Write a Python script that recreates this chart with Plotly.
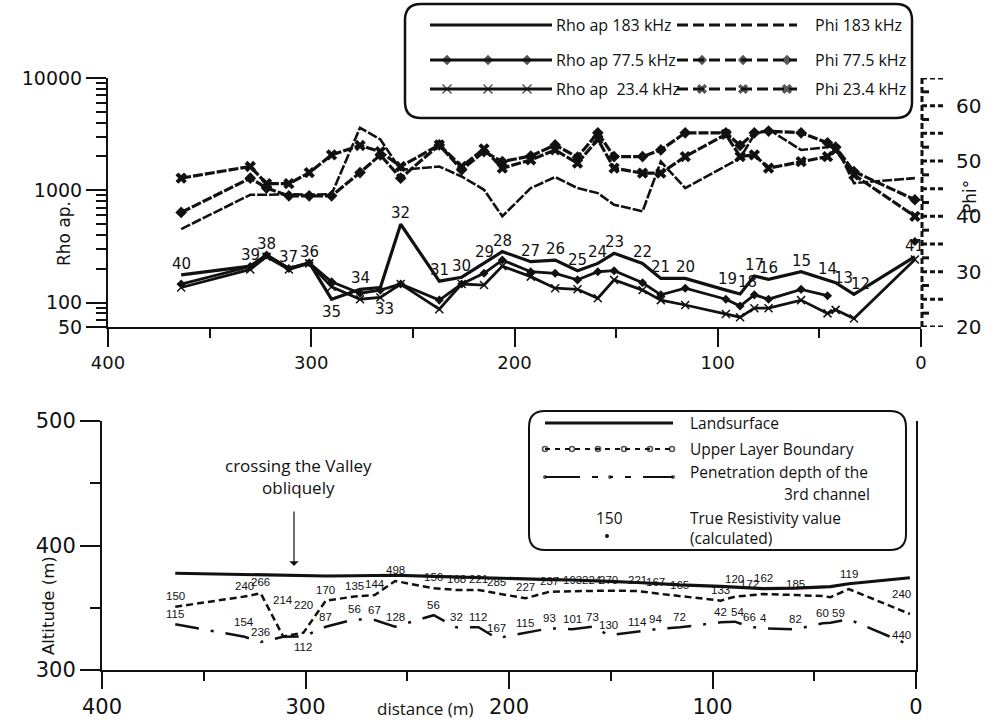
import math
import plotly.graph_objects as go

W, H = 995, 722
BLACK = "#111111"

# ---------------- data ----------------
stations = [40, 39, 38, 37, 36, 35, 34, 33, 32, 31, 30, 29, 28, 27, 26, 25, 24, 23, 22, 21,
            20, 19, 18, 17, 16, 15, 14, 13, 12, 41]
distance_m = [364, 330, 322, 311, 301, 290, 276, 266, 256, 237, 226, 215, 206, 192, 180, 169,
              159, 151, 137, 128, 116, 96, 89, 82, 75, 59, 46, 42, 33, 3]

rho_183 = [176, 211, 265, 201, 226, 107, 131, 136, 498, 155, 168, 223, 284, 231, 239, 192,
           223, 274, 223, 164, 164, 129, 119, 172, 161, 188, 159, 150, 118, 256]
rho_775 = [146, 209, 265, 201, 226, 153, 121, 129, 146, 105, 146, 182, 239, 188, 182, 159,
           188, 192, 150, 117, 134, 107, 93, 117, 107, 131, 115, None, None, 350]
rho_234 = [136, 197, 256, 197, 223, 138, 107, 111, 146, 87, 146, 143, 211, 170, 134, 131,
           109, 159, 129, 105, 95, 79, 74, 89, 89, 105, 80, 86, 72, 242]

phi_183 = [37.7, 43.9, 43.9, 44.0, 43.9, 44.0, 56.0, 53.9, 48.4, 49.0, 47.2, 44.8, 40.0, 45.1,
           47.1, 45.1, 44.2, 42.1, 40.9, 49.9, 45.1, 49.0, 50.5, 54.8, 55.7, 52.0, 52.5, 52.8,
           46.0, 46.9]
phi_775 = [40.7, 46.9, 45.1, 43.7, 43.7, 43.7, 47.9, 51.1, 46.9, 52.9, 48.4, 51.7, 49.9, 50.9,
           52.9, 50.7, 55.1, 50.8, 50.8, 52.0, 55.1, 55.1, 52.8, 55.1, 55.4, 55.1, 53.3, 52.5,
           48.1, 43.0]
phi_234 = [46.9, 49.0, 45.9, 45.9, 47.9, 51.1, 52.8, 51.7, 49.0, 52.9, 49.0, 52.2, 48.7, 50.2,
           52.0, 49.6, 53.9, 48.7, 47.8, 47.8, 50.8, 54.8, 50.8, 51.1, 48.7, 49.9, 50.8, 52.0,
           47.5, 40.0]

land_alt = [377.7, 376.8, 376.3, 375.9, 375.6, 375.5, 375.7, 375.9, 376.1, 375.2, 374.6, 374.0,
            373.6, 373.0, 372.6, 372.3, 371.9, 371.2, 370.3, 369.3, 368.3, 367.2, 366.6, 365.8,
            365.3, 365.8, 366.4, 367.0, 369.3, 374.1]
upper_alt = [350.8, 359.0, 361.6, 327.0, 330.0, 355.7, 359.0, 360.2, 371.5, 365.6, 364.3, 364.3,
             361.6, 357.6, 362.9, 363.5, 363.5, 363.7, 363.5, 361.6, 359.4, 355.7, 358.9, 360.2,
             361.0, 360.2, 359.4, 358.5, 365.0, 345.0]
pen_alt = [336.7, 326.7, 322.5, 326.7, 327.0, 334.8, 340.7, 340.2, 334.8, 344.0, 334.3, 334.3,
           325.5, 330.0, 333.5, 332.7, 334.8, 328.0, 330.8, 332.7, 334.3, 338.3, 338.8, 334.8,
           333.5, 332.7, 337.5, 338.0, 340.7, 320.0]

upper_res = [150, 240, 266, 214, 220, 170, 135, 144, 498, 156, 168, 221, 285, 227, 237, 193,
             224, 270, 221, 167, 165, 133, 120, 172, 162, 185, None, None, 119, 240]
lower_res = [115, 154, 236, None, 112, 87, 56, 67, 128, 56, 32, 112, 167, 115, 93, 101, 73,
             130, 114, 94, 72, 42, 54, 66, 4, 82, 60, 59, None, 440]

x_ticks = [400, 300, 200, 100, 0]
x_minor = [350, 250, 150, 50]
rho_ticks = [60.5, 100, 1000, 10000]
rho_ticktext = ["50", "100", "1000", "10000"]
rho_minor = [70, 80, 90] + [k * 100 for k in range(2, 10)] + [k * 1000 for k in range(2, 10)]
phi_ticks = [20, 30, 40, 50, 60]
alt_ticks = [300, 400, 500]
alt_minor = [350, 450]


def px_x(a, b):
    return [a / W, b / W]


def px_y(top, bottom):
    return [1 - bottom / H, 1 - top / H]


fig = go.Figure()

# ---------------- top chart ----------------
fig.add_trace(go.Scatter(x=distance_m, y=rho_183, mode="lines", xaxis="x", yaxis="y",
                         line=dict(color=BLACK, width=3.2), showlegend=False))
fig.add_trace(go.Scatter(x=distance_m, y=rho_775, mode="lines+markers", xaxis="x", yaxis="y",
                         line=dict(color=BLACK, width=2.8),
                         marker=dict(symbol="diamond", size=7, color=BLACK), showlegend=False))
fig.add_trace(go.Scatter(x=distance_m, y=rho_234, mode="lines+markers", xaxis="x", yaxis="y",
                         line=dict(color=BLACK, width=2.8),
                         marker=dict(symbol="x-thin", size=8, color=BLACK,
                                     line=dict(width=1.5, color=BLACK)), showlegend=False))
fig.add_trace(go.Scatter(x=distance_m, y=phi_183, mode="lines", xaxis="x", yaxis="y2",
                         line=dict(color=BLACK, width=2.6, dash="10px,2px"), showlegend=False))
fig.add_trace(go.Scatter(x=distance_m, y=phi_775, mode="lines+markers", xaxis="x", yaxis="y2",
                         line=dict(color=BLACK, width=3.2, dash="10px,2px"),
                         marker=dict(symbol="diamond", size=9, color=BLACK), showlegend=False))
fig.add_trace(go.Scatter(x=distance_m, y=phi_234, mode="lines+markers", xaxis="x", yaxis="y2",
                         line=dict(color=BLACK, width=3.2, dash="10px,2px"),
                         marker=dict(symbol="x", size=10, color=BLACK), showlegend=False))

# ---------------- bottom chart ----------------
fig.add_trace(go.Scatter(x=distance_m, y=land_alt, mode="lines", xaxis="x2", yaxis="y3",
                         line=dict(color=BLACK, width=3.2), showlegend=False))
fig.add_trace(go.Scatter(x=distance_m, y=upper_alt, mode="lines", xaxis="x2", yaxis="y3",
                         line=dict(color=BLACK, width=2.5, dash="7px,4px"), showlegend=False))
fig.add_trace(go.Scatter(x=distance_m, y=pen_alt, mode="lines", xaxis="x2", yaxis="y3",
                         line=dict(color=BLACK, width=2.5, dash="24px,12px,3px,12px"),
                         showlegend=False))

# ---------------- legend samples (pixel overlay) ----------------
def sample(x0, x1, y, dash, width, mpos=None, symbol=None, msize=8, mline=0):
    xs = [x0] + (mpos or []) + [x1]
    sizes = [0] + [msize] * len(mpos or []) + [0]
    fig.add_trace(go.Scatter(
        x=xs, y=[y] * len(xs), xaxis="x3", yaxis="y4", showlegend=False,
        mode="lines+markers" if mpos else "lines",
        line=dict(color=BLACK, width=width, dash=dash),
        marker=dict(symbol=symbol or "circle", size=sizes, color=BLACK,
                    line=dict(width=mline, color=BLACK)),
        hoverinfo="skip"))


# top legend
sample(430, 552, 25, "solid", 3)
sample(677, 797, 25, "11px,5px", 3)
sample(430, 552, 60, "solid", 3, [447, 488, 527], "diamond", 8)
sample(677, 797, 60, "11px,5px", 3, [702, 743, 787], "diamond", 8)
sample(430, 552, 89, "solid", 3, [447, 488, 527], "x-thin", 9, 1.5)
sample(677, 797, 89, "11px,5px", 3, [702, 743, 787], "x", 9)

# bottom legend
sample(545, 673, 423, "solid", 3)
sample(545, 673, 449, "5px,5px", 2, [545, 572, 598, 624, 650, 672], "circle-open", 5, 1.6)
sample(545, 673, 477, "35px,12px,6px,12px,3px,12px,6px,12px,30px", 2.2, [545, 610, 673],
       "circle", 4)
fig.add_trace(go.Scatter(x=[607], y=[536], mode="markers", xaxis="x3", yaxis="y4",
                         marker=dict(size=4, color=BLACK), showlegend=False))


def rrect(x0, y0, x1, y1, r):
    return (f"M{x0 + r},{y0} L{x1 - r},{y0} Q{x1},{y0} {x1},{y0 + r} L{x1},{y1 - r} "
            f"Q{x1},{y1} {x1 - r},{y1} L{x0 + r},{y1} Q{x0},{y1} {x0},{y1 - r} "
            f"L{x0},{y0 + r} Q{x0},{y0} {x0 + r},{y0} Z")


shapes = [
    dict(type="path", xref="x3", yref="y4", path=rrect(405, 4, 912, 118, 16),
         line=dict(color=BLACK, width=2.5)),
    dict(type="path", xref="x3", yref="y4", path=rrect(529, 411, 906, 550, 16),
         line=dict(color=BLACK, width=2)),
    dict(type="line", xref="x3", yref="y2", x0=922, x1=922, y0=20, y1=65,
         line=dict(color=BLACK, width=3, dash="6px,3px")),
]
for k in range(10):
    v = 20 + 5 * k
    shapes.append(dict(type="line", xref="x3", yref="y2", x0=922, x1=944, y0=v, y1=v,
                       line=dict(color=BLACK, width=3, dash="5px,3px")))
for k in range(9):
    v = 22.5 + 5 * k
    shapes.append(dict(type="line", xref="x3", yref="y2", x0=922, x1=929, y0=v, y1=v,
                       line=dict(color=BLACK, width=3)))

# ---------------- annotations ----------------
ann = []
TF = "Open Sans"


def txt(x, y, s, size, xa="left", family=TF, angle=0):
    ann.append(dict(x=x, y=y, xref="x3", yref="y4", text=s, showarrow=False, xanchor=xa,
                    yanchor="middle", textangle=angle,
                    font=dict(family=family, size=size, color=BLACK)))


txt(554, 25, "Rho ap 183 kHz", 16)
txt(554, 60, "Rho ap 77.5 kHz", 16)
txt(554, 89, "Rho ap  23.4 kHz", 16)
txt(813, 25, "Phi 183 kHz", 16)
txt(813, 60, "Phi 77.5 kHz", 16)
txt(813, 89, "Phi 23.4 kHz", 16)

txt(688, 423, "Landsurface", 15.5)
txt(688, 449, "Upper Layer Boundary", 15.5)
txt(688, 472, "Penetration depth of the", 15.5)
txt(872, 494, "3rd channel", 15.5, xa="right")
txt(609, 518, "150", 15.5, xa="center")
txt(688, 518, "True Resistivity value", 15.5)
txt(688, 538, "(calculated)", 15.5)

txt(298, 476, "crossing the Valley<br>obliquely", 17, xa="center")
txt(425, 708, "distance (m)", 17)
ann[-1]["xanchor"] = "center"

txt(64, 234, "Rho ap.", 17, xa="center", family="DejaVu Sans", angle=-90)
txt(970, 197, "Phi°", 17, xa="center", family="DejaVu Sans", angle=-90)
txt(48, 606, "Altitude (m)", 16.5, xa="center", family="DejaVu Sans", angle=-90)

# phi tick labels (right axis)
for v in phi_ticks:
    ann.append(dict(x=954, y=v, xref="x3", yref="y2", text=str(v), showarrow=False,
                    xanchor="left", yanchor="middle",
                    font=dict(family="DejaVu Sans", size=20, color=BLACK)))

ann.append(dict(x=294, y=566, xref="x3", yref="y4", ax=294, ay=510, axref="x3", ayref="y4",
                text="", showarrow=True, arrowhead=1, arrowsize=1.3, arrowwidth=1.2,
                arrowcolor=BLACK))

# station labels
st_shift = {35: (0, -13), 33: (4, -21), 18: (7, 12), 13: (8, 5), 12: (7, 10), 19: (2, 11)}
for s, d, r in zip(stations, distance_m, rho_183):
    xs, ys = st_shift.get(s, (0, 11))
    ann.append(dict(x=d, y=math.log10(r), xref="x", yref="y", text=str(s), showarrow=False,
                    xshift=xs, yshift=ys,
                    font=dict(family="DejaVu Sans", size=15, color=BLACK)))

# resistivity labels (bottom)
up_shift = {37: 36, 36: 28, 41: 20, 12: 15, 18: 18, 16: 16}
for s, d, a, v in zip(stations, distance_m, upper_alt, upper_res):
    if v is None:
        continue
    ann.append(dict(x=d, y=a, xref="x2", yref="y3", text=str(v), showarrow=False,
                    yshift=up_shift.get(s, 11), xshift=-8 if s == 41 else 0,
                    font=dict(family="Liberation Sans", size=11.5, color=BLACK)))
lo_shift = {36: -11, 39: 15}
lo_xshift = {41: -8, 13: 8, 18: 3}
for s, d, a, v in zip(stations, distance_m, pen_alt, lower_res):
    if v is None:
        continue
    ann.append(dict(x=d, y=a, xref="x2", yref="y3", text=str(v), showarrow=False,
                    yshift=lo_shift.get(s, 10), xshift=lo_xshift.get(s, 0),
                    font=dict(family="Liberation Sans", size=11.5, color=BLACK)))

axis_common = dict(showgrid=False, zeroline=False, showline=True, linewidth=2,
                   linecolor=BLACK, ticks="outside", tickwidth=2, tickcolor=BLACK,
                   automargin=False)

fig.update_layout(
    width=W, height=H, margin=dict(l=0, r=0, t=0, b=0, pad=0, autoexpand=False),
    paper_bgcolor="white", plot_bgcolor="rgba(0,0,0,0)", showlegend=False,
    xaxis=dict(domain=px_x(108, 921), range=[400, 0], anchor="y", tickvals=x_ticks,
               ticklen=18, tickfont=dict(family="DejaVu Sans", size=18, color=BLACK),
               minor=dict(tickvals=x_minor, ticks="outside", ticklen=9, tickwidth=2,
                          tickcolor=BLACK), **axis_common),
    yaxis=dict(domain=px_y(78, 327), type="log", range=[math.log10(60.5), 4], anchor="x",
               tickvals=rho_ticks, ticktext=rho_ticktext, ticklen=20,
               tickfont=dict(family="DejaVu Sans", size=19, color=BLACK),
               minor=dict(tickvals=rho_minor, ticks="outside", ticklen=10, tickwidth=2,
                          tickcolor=BLACK), **axis_common),
    yaxis2=dict(overlaying="y", side="right", anchor="x", range=[20, 65],
                showticklabels=False, ticks="", showline=False,
                showgrid=False, zeroline=False, automargin=False),
    xaxis2=dict(domain=px_x(102, 916), range=[400, 0], anchor="y3", tickvals=x_ticks,
                ticklen=17, tickfont=dict(family="DejaVu Sans", size=21, color=BLACK),
                minor=dict(tickvals=x_minor, ticks="outside", ticklen=9, tickwidth=2,
                           tickcolor=BLACK), **axis_common),
    yaxis3=dict(domain=px_y(421, 670), range=[300, 500], anchor="x2", tickvals=alt_ticks,
                ticklen=20, mirror=True,
                tickfont=dict(family="DejaVu Sans", size=21, color=BLACK),
                minor=dict(tickvals=alt_minor, ticks="outside", ticklen=10, tickwidth=2,
                           tickcolor=BLACK), **axis_common),
    xaxis3=dict(domain=[0, 1], range=[0, W], anchor="y4", visible=False, fixedrange=True,
                automargin=False),
    yaxis4=dict(domain=[0, 1], range=[H, 0], anchor="x3", visible=False, fixedrange=True,
                automargin=False),
    shapes=shapes,
    annotations=ann,
)

fig.write_html("out.html")
